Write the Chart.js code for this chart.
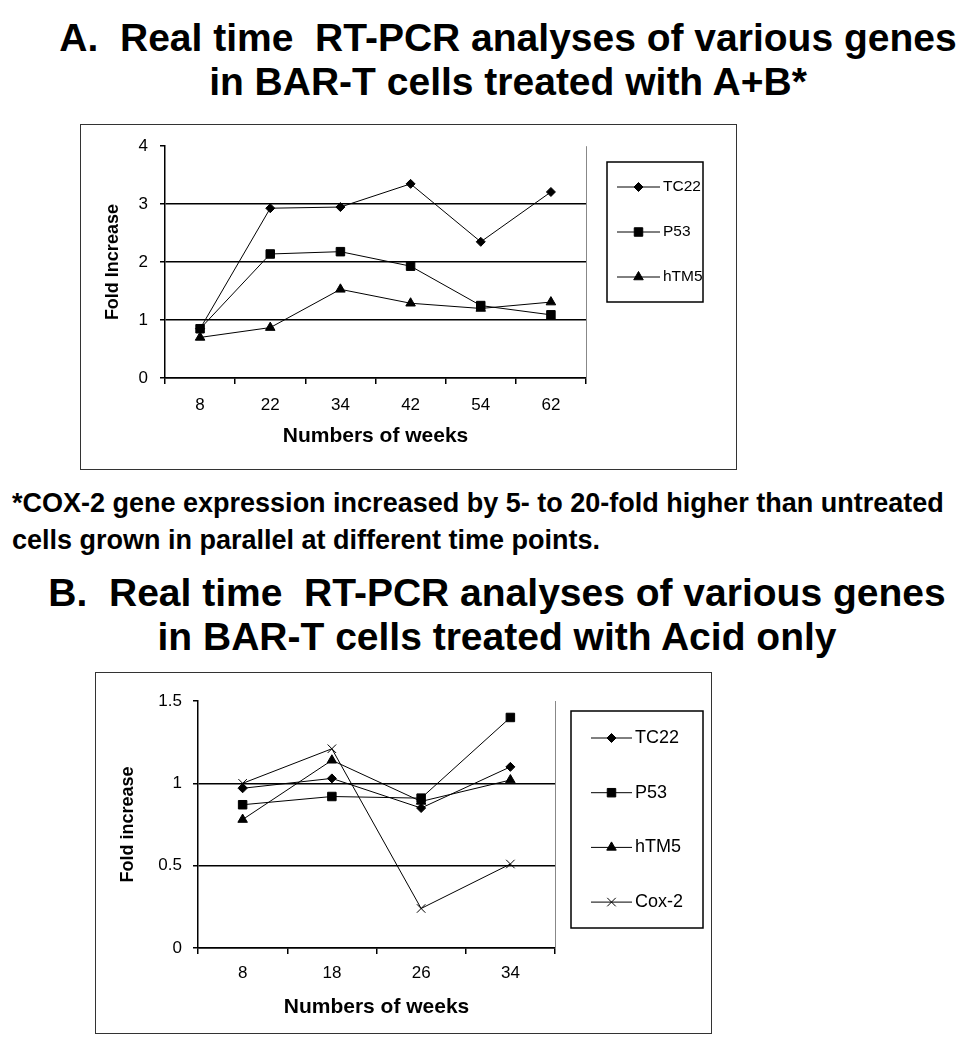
<!DOCTYPE html>
<html><head><meta charset="utf-8">
<script src="https://cdn.jsdelivr.net/npm/chart.js@4/dist/chart.umd.min.js"></script>
<style>
body{margin:0;width:980px;height:1050px;background:#fff;position:relative;overflow:hidden;font-family:'Liberation Sans',Arial,sans-serif;}
.t{position:absolute;font-weight:bold;color:#000;white-space:nowrap;}
.c{position:absolute;transform:translateX(-50%);text-align:center;font-size:39px;line-height:44px;}
.box{position:absolute;border:1.5px solid #333;box-sizing:border-box;pointer-events:none;}
canvas{position:absolute;}
</style></head><body>
<div class="t c" style="left:508px;top:16px;">A.&nbsp; Real time&nbsp; RT-PCR analyses of various genes<br>in BAR-T cells treated with A+B*</div>
<canvas id="cA" width="657" height="345" style="left:80px;top:124px;width:657px;height:345px;"></canvas>
<div class="box" style="left:80px;top:124px;width:657px;height:346px;"></div>
<div class="t" style="left:12px;top:485px;font-size:27px;line-height:37px;">*COX-2 gene expression increased by 5- to 20-fold higher than untreated<br>cells grown in parallel at different time points.</div>
<div class="t c" style="left:497px;top:571px;">B.&nbsp; Real time&nbsp; RT-PCR analyses of various genes<br>in BAR-T cells treated with Acid only</div>
<canvas id="cB" width="617" height="361" style="left:95px;top:672px;width:617px;height:361px;"></canvas>
<div class="box" style="left:95px;top:672px;width:617px;height:362px;"></div>
<script>
// ---- data ----
const weeksA = ['8','22','34','42','54','62'];
const tc22A = [0.85, 2.93, 2.95, 3.35, 2.35, 3.21];
const p53A  = [0.85, 2.14, 2.18, 1.93, 1.25, 1.09];
const htm5A = [0.70, 0.87, 1.53, 1.29, 1.20, 1.31];

const weeksB = ['8','18','26','34'];
const tc22B = [0.97, 1.03, 0.85, 1.10];
const p53B  = [0.87, 0.92, 0.91, 1.40];
const htm5B = [0.78, 1.14, 0.89, 1.02];
const cox2B = [1.00, 1.21, 0.24, 0.51];

const seriesNamesA = ['TC22','P53','hTM5'];
const seriesNamesB = ['TC22','P53','hTM5','Cox-2'];
const xTitle = 'Numbers of weeks';
const yTitleA = 'Fold Increase';
const yTitleB = 'Fold increase';

Chart.defaults.font.family = "'Liberation Sans', Arial, sans-serif";
Chart.defaults.color = '#000';

const FONT = "'Liberation Sans', Arial, sans-serif";

const boxLegend = {
  id: 'boxLegend',
  afterDraw(chart, args, o) {
    const ctx = chart.ctx;
    ctx.save();
    ctx.strokeStyle = '#000';
    ctx.lineWidth = 1.5;
    ctx.strokeRect(o.x, o.y, o.w, o.h);
    chart.data.datasets.forEach((ds, i) => {
      const y = o.y0 + i * o.dy;
      ctx.beginPath();
      ctx.moveTo(o.lx0, y); ctx.lineTo(o.lx1, y);
      ctx.lineWidth = 1; ctx.strokeStyle = '#000';
      ctx.stroke();
      ctx.fillStyle = '#000'; ctx.strokeStyle = '#000'; ctx.lineWidth = 1;
      Chart.helpers.drawPoint(ctx, {pointStyle: ds.pointStyle, radius: ds.pointRadius, borderWidth: 1, rotation: 0}, (o.lx0 + o.lx1) / 2, y);
      ctx.font = o.fontSize + 'px ' + FONT;
      ctx.textBaseline = 'middle';
      ctx.textAlign = 'left';
      ctx.fillStyle = '#000';
      ctx.fillText(ds.label, o.tx, y);
    });
    ctx.restore();
  }
};
const rightBorder = {
  id: 'rightBorder',
  afterDraw(chart) {
    const {ctx, chartArea} = chart;
    ctx.save();
    ctx.strokeStyle = '#888'; ctx.lineWidth = 1;
    ctx.beginPath();
    ctx.moveTo(chartArea.right + 0.5, chartArea.top);
    ctx.lineTo(chartArea.right + 0.5, chartArea.bottom);
    ctx.stroke();
    ctx.restore();
  }
};

function ds(label, data, style, r) {
  return {label, data, pointStyle: style, pointRadius: r, pointHoverRadius: r,
    borderColor: '#000', backgroundColor: '#000', pointBackgroundColor: '#000', pointBorderColor: '#000',
    pointBorderWidth: 1, borderWidth: 1, tension: 0, fill: false};
}

function makeOpts(cfg) {
  return {
    responsive: false, animation: false, devicePixelRatio: 1,
    layout: {padding: {top: cfg.padTop, right: cfg.padRight, left: 0, bottom: 0}},
    plugins: {legend: {display: false}, tooltip: {enabled: false}, boxLegend: cfg.legend},
    scales: {
      x: {
        offset: true,
        afterFit: s => { s.height = cfg.xHeight; },
        grid: {offset: true, drawOnChartArea: false, drawTicks: true, tickLength: 6, color: '#000', tickColor: '#000', lineWidth: 1.5},
        border: {display: true, color: '#000', width: 1.5},
        ticks: {font: {size: 17}, padding: cfg.xTickPad, color: '#000', maxRotation: 0},
        title: {display: true, text: xTitle, font: {size: 21, weight: 'bold'}, color: '#000', padding: {top: 0, bottom: cfg.xTitlePad}}
      },
      y: {
        min: 0, max: cfg.yMax,
        afterFit: s => { s.width = cfg.yWidth; },
        grid: {drawTicks: true, tickLength: 5, lineWidth: 1.5, tickColor: '#000',
          color: c => (c.tick && c.tick.value === cfg.yMax) ? 'rgba(0,0,0,0)' : '#000'},
        border: {display: true, color: '#000', width: 1.5},
        ticks: {stepSize: cfg.step, font: {size: 17}, padding: cfg.yTickPad, color: '#000',
          callback: v => String(v)},
        title: {display: true, text: cfg.yTitle, font: {size: 18, weight: 'bold'}, color: '#000', padding: {top: 22, bottom: 0}}
      }
    }
  };
}

new Chart(document.getElementById('cA'), {
  type: 'line',
  data: {labels: weeksA, datasets: [
    ds(seriesNamesA[0], tc22A, 'rectRot', 4.5),
    ds(seriesNamesA[1], p53A, 'rect', 6),
    ds(seriesNamesA[2], htm5A, 'triangle', 5.5)
  ]},
  options: makeOpts({padTop: 18, padRight: 151, xHeight: 91, yWidth: 85, yMax: 4, step: 1,
    xTickPad: 11, yTickPad: 12, xTitlePad: 20, yTitle: yTitleA,
    legend: {x: 527, y: 38, w: 96, h: 140, y0: 63, dy: 45, lx0: 537, lx1: 580, tx: 583, fontSize: 15.5}}),
  plugins: [boxLegend, rightBorder]
});

new Chart(document.getElementById('cB'), {
  type: 'line',
  data: {labels: weeksB, datasets: [
    ds(seriesNamesB[0], tc22B, 'rectRot', 4.5),
    ds(seriesNamesB[1], p53B, 'rect', 6),
    ds(seriesNamesB[2], htm5B, 'triangle', 5.5),
    ds(seriesNamesB[3], cox2B, 'crossRot', 6)
  ]},
  options: makeOpts({padTop: 29, padRight: 157, xHeight: 85, yWidth: 103, yMax: 1.5, step: 0.5,
    xTickPad: 9, yTickPad: 11, xTitlePad: 13, yTitle: yTitleB,
    legend: {x: 476, y: 39, w: 132, h: 217, y0: 66, dy: 54.7, lx0: 496, lx1: 537, tx: 540, fontSize: 18}}),
  plugins: [boxLegend, rightBorder]
});
</script>
</body></html>
